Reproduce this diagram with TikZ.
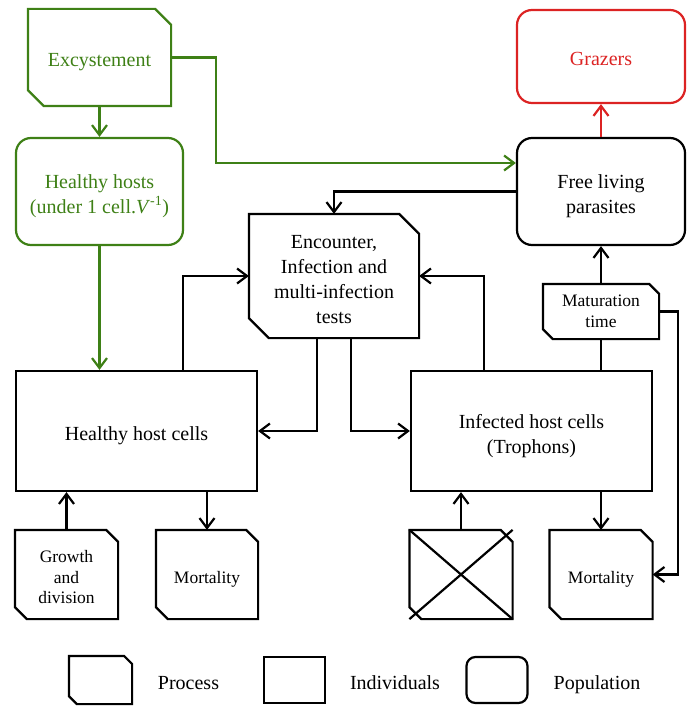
\documentclass[tikz,border=0pt]{standalone}
\usepackage{fontspec}
\setmainfont{Liberation Serif}
\usetikzlibrary{arrows.meta}
\definecolor{grn}{RGB}{62,128,22}
\definecolor{rd}{RGB}{220,35,35}
\newcommand\chbox[3][]{\draw[#1] (#2.north west) -- ([xshift=-#3]#2.north east) -- ([yshift=-#3]#2.north east) -- (#2.south east) -- ([xshift=#3]#2.south west) -- ([yshift=#3]#2.south west) -- cycle;}
\newcommand\tx[1]{\raisebox{-4.5pt}[\height][\depth]{\begin{tabular}{@{}c@{}}#1\end{tabular}}}
\begin{document}
\begin{tikzpicture}[x=1pt,y=-1pt,line width=2.2pt,
  every node/.style={font=\fontsize{20}{25}\selectfont,inner sep=0pt,align=center},
  small/.style={font=\fontsize{17.5}{20.5}\selectfont},
  indiv/.style={draw},
  popu/.style={draw,rounded corners=15pt},
  arr/.style={-{Straight Barb[length=10pt,width=15pt]}}]
\useasboundingbox (0,0) rectangle (694,706);

% nodes
\node[minimum width=141pt,minimum height=95pt,text=grn] (exc) at (99.5,57.5) {\tx{Excystement}};
\chbox[grn]{exc}{16pt}
\node[popu,draw=grn,text=grn,minimum width=167pt,minimum height=107pt] (hh) at (99.5,191.5) {\tx{Healthy hosts\\(under 1 cell.\textit{V}\textsuperscript{-1})}};
\node[popu,draw=rd,text=rd,minimum width=168pt,minimum height=93pt] (graz) at (601,56.5) {\tx{Grazers}};
\node[popu,minimum width=168pt,minimum height=107pt] (flp) at (601,191.5) {\tx{Free living\\parasites}};
\node[minimum width=168pt,minimum height=122pt] (enc) at (334,276) {\tx{Encounter,\\Infection and\\multi-infection\\tests}};
\chbox{enc}{20pt}
\node[indiv,minimum width=241pt,minimum height=120pt] (hc) at (136.5,431) {\tx{Healthy host cells}};
\node[indiv,minimum width=241pt,minimum height=120pt] (ic) at (531.5,431) {\tx{Infected host cells\\(Trophons)}};
\node[small,minimum width=114pt,minimum height=53pt] (mat) at (601,311.5) {Maturation\\time};
\chbox{mat}{10pt}
\node[small,minimum width=101pt,minimum height=87pt] (gd) at (66.5,574.5) {\tx{Growth\\and\\division}};
\chbox{gd}{12pt}
\node[small,minimum width=100pt,minimum height=87pt] (mort1) at (207,574.5) {\tx{Mortality}};
\chbox{mort1}{12pt}
\node[minimum width=101pt,minimum height=87pt] (cross) at (461,574.5) {};
\chbox{cross}{12pt}
\draw (cross.north west) -- (cross.south east);
\draw (cross.south west) -- (cross.north east);
\node[small,minimum width=101pt,minimum height=87pt] (mort2) at (601,574.5) {\tx{Mortality}};
\chbox{mort2}{12pt}

% connectors
\draw[grn,arr] (exc.south) -- (hh.north);
\draw[grn,arr] (exc.east) -| (216,163) -- (flp.west |- 0,163);
\draw[grn,arr] (hh.south) -- (hh.south |- hc.north);
\draw[rd,arr] (flp.north) -- (graz.south);
\draw[arr] (flp.west) -| (enc.north);
\draw[arr] ([xshift=46.5pt]hc.north) |- (enc.west);
\draw[arr] (ic.north -| 484,0) |- (enc.east);
\draw[arr] ([xshift=-17pt]enc.south) |- (hc.east);
\draw[arr] ([xshift=17pt]enc.south) |- (ic.west);
\draw (mat.south |- ic.north) -- (mat.south);
\draw[arr] (mat.north) -- (flp.south);
\draw[arr] (mat.east) -- (678,311.5) |- (mort2.east);
\draw[arr] (gd.north) -- (gd.north |- hc.south);
\draw[arr] (mort1.north |- hc.south) -- (mort1.north);
\draw[arr] (cross.north) -- (cross.north |- ic.south);
\draw[arr] (mort2.north |- ic.south) -- (mort2.north);

% legend
\node[minimum width=61pt,minimum height=46pt] (lp) at (100.5,680) {};
\chbox{lp}{8pt}
\node[anchor=base] (lpt) at (188.5,689) {Process};
\node[indiv,minimum width=61pt,minimum height=46pt] (li) at (294.5,680) {};
\node[anchor=base] (lit) at (395,689) {Individuals};
\node[draw,rounded corners=9pt,minimum width=61pt,minimum height=46pt] (lq) at (497,680) {};
\node[anchor=base] (lqt) at (597,689) {Population};
\end{tikzpicture}
\end{document}
